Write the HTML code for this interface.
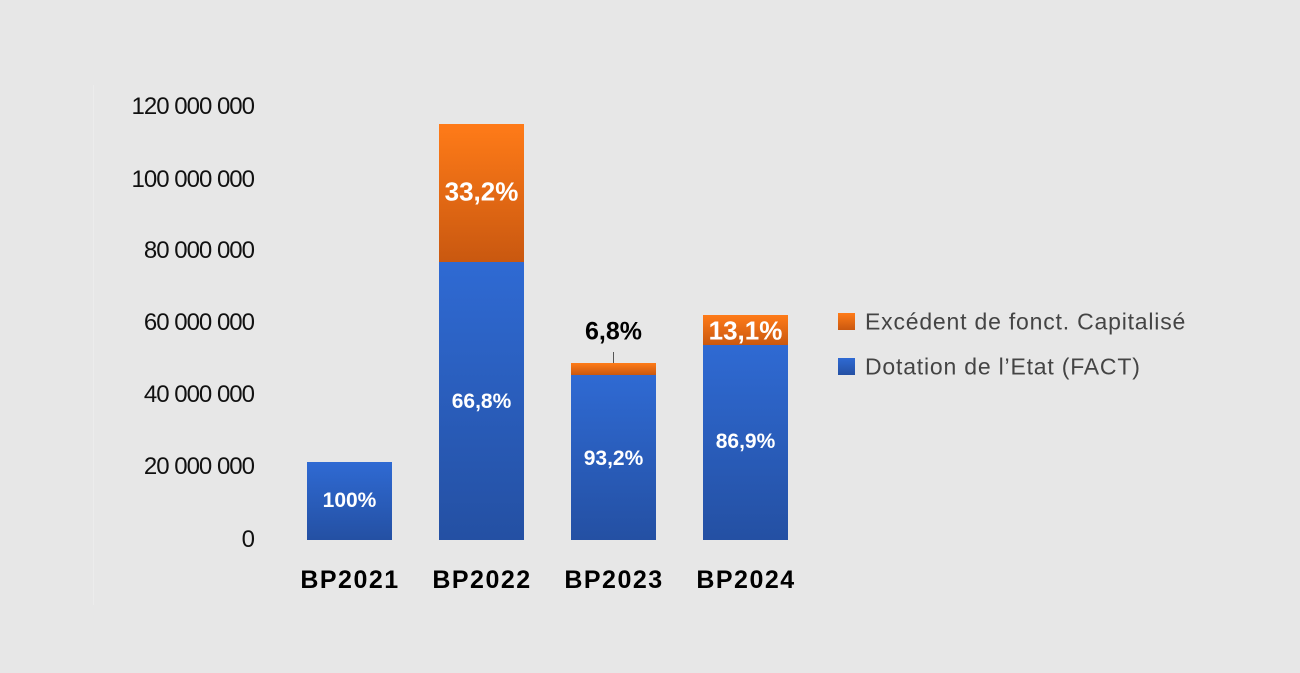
<!DOCTYPE html>
<html><head><meta charset="utf-8"><style>
body{margin:0;width:1300px;height:673px;background:#e7e7e7;overflow:hidden;position:relative;font-family:"Liberation Sans",sans-serif}
.yl{position:absolute;right:1046px;font-size:24px;color:#111;transform:translateY(-50%);letter-spacing:-1px}
.bar{position:absolute;width:85px}
.blue{background:linear-gradient(#2f6ad3,#2450a3)}
.or{background:linear-gradient(#ff7b18,#c95810)}
.lab{position:absolute;width:85px;text-align:center;font-weight:bold;font-size:21px;color:#fff;transform:translateY(-50%)}
.xl{position:absolute;width:130px;text-align:center;font-weight:bold;font-size:25px;letter-spacing:1.5px;color:#000;top:566px}
.lg{position:absolute;left:865px;font-size:23px;letter-spacing:0.8px;color:#444;transform:translateY(-50%)}
.sq{position:absolute;left:838px;width:17px;height:17px}
</style></head><body>
<div style="position:absolute;left:93px;top:85px;width:1px;height:520px;background:#ececec"></div>
<div class="yl" style="top:107px">120 000 000</div>
<div class="yl" style="top:180px">100 000 000</div>
<div class="yl" style="top:251px">80 000 000</div>
<div class="yl" style="top:323px">60 000 000</div>
<div class="yl" style="top:395px">40 000 000</div>
<div class="yl" style="top:467px">20 000 000</div>
<div class="yl" style="top:540px">0</div>

<div class="bar blue" style="left:307px;top:462px;height:78px"></div>
<div class="lab" style="left:307px;top:501px">100%</div>

<div class="bar or" style="left:439px;top:124px;height:138px"></div>
<div class="bar blue" style="left:439px;top:262px;height:278px"></div>
<div class="lab" style="left:439px;top:192px;font-size:26px">33,2%</div>
<div class="lab" style="left:439px;top:402px">66,8%</div>

<div class="bar or" style="left:571px;top:363px;height:12px"></div>
<div class="bar blue" style="left:571px;top:375px;height:165px"></div>
<div style="position:absolute;left:613px;top:352px;width:1px;height:11px;background:#555"></div>
<div class="lab" style="left:571px;top:332px;color:#000;font-size:25px">6,8%</div>
<div class="lab" style="left:571px;top:459px">93,2%</div>

<div class="bar or" style="left:703px;top:315px;height:30px"></div>
<div class="bar blue" style="left:703px;top:345px;height:195px"></div>
<div class="lab" style="left:703px;top:331px;font-size:26px">13,1%</div>
<div class="lab" style="left:703px;top:442px">86,9%</div>

<div class="xl" style="left:285px">BP2021</div>
<div class="xl" style="left:417px">BP2022</div>
<div class="xl" style="left:549px">BP2023</div>
<div class="xl" style="left:681px">BP2024</div>

<div class="sq or" style="top:313px"></div>
<div class="lg" style="top:322px">Excédent de fonct. Capitalisé</div>
<div class="sq blue" style="top:358px"></div>
<div class="lg" style="top:367px">Dotation de l’Etat (FACT)</div>
</body></html>
